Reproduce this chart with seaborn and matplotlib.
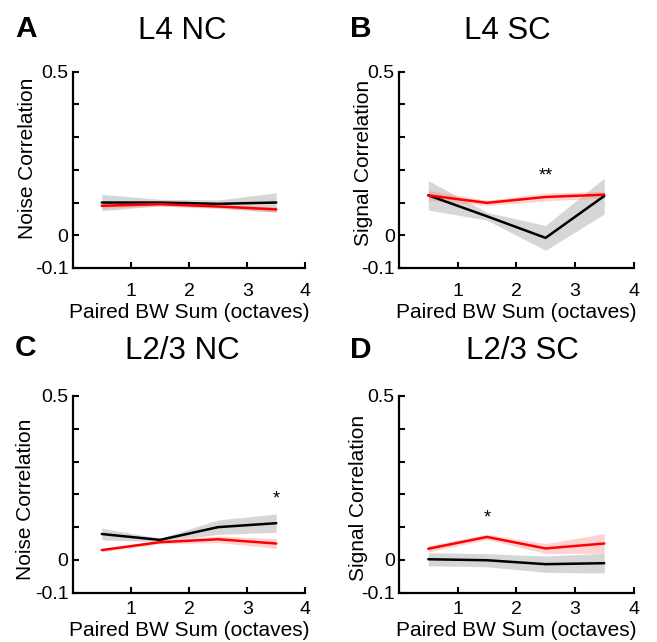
import matplotlib
matplotlib.use("Agg")
import matplotlib.pyplot as plt
import seaborn as sns
import pandas as pd

# bin centres (paired bandwidth sum, octaves)
bw_sum = [0.5, 1.5, 2.5, 3.5]

# L4 noise correlation
l4_nc_black = [0.100, 0.100, 0.096, 0.100]
l4_nc_black_err = [0.025, 0.010, 0.012, 0.030]
l4_nc_red = [0.090, 0.095, 0.088, 0.079]
l4_nc_red_err = [0.008, 0.006, 0.006, 0.008]

# L4 signal correlation
l4_sc_black = [0.122, 0.058, -0.008, 0.120]
l4_sc_black_err = [0.045, 0.012, 0.038, 0.055]
l4_sc_red = [0.122, 0.099, 0.117, 0.124]
l4_sc_red_err = [0.015, 0.008, 0.012, 0.010]

# L2/3 noise correlation
l23_nc_black = [0.079, 0.061, 0.100, 0.112]
l23_nc_black_err = [0.018, 0.005, 0.022, 0.028]
l23_nc_red = [0.030, 0.054, 0.063, 0.050]
l23_nc_red_err = [0.005, 0.005, 0.010, 0.015]

# L2/3 signal correlation
l23_sc_black = [0.002, -0.001, -0.013, -0.010]
l23_sc_black_err = [0.020, 0.020, 0.025, 0.030]
l23_sc_red = [0.034, 0.070, 0.035, 0.050]
l23_sc_red_err = [0.010, 0.008, 0.015, 0.030]

letters = ["A", "B", "C", "D"]
titles = ["L4 NC", "L4 SC", "L2/3 NC", "L2/3 SC"]
ylabels = ["Noise Correlation", "Signal Correlation", "Noise Correlation", "Signal Correlation"]
stars = ["", "**", "*", "*"]
star_x = [None, 2.5, 3.5, 1.5]
star_y = [None, 0.18, 0.185, 0.128]

sns.set_style("white")
plt.rcParams['font.family'] = ['Liberation Sans', 'DejaVu Sans']
plt.rcParams['text.color'] = 'black'
plt.rcParams['axes.labelcolor'] = 'black'
plt.rcParams['xtick.color'] = 'black'
plt.rcParams['ytick.color'] = 'black'

fig = plt.figure(figsize=(6.57, 6.42), dpi=100)

rects = [
    [0.1107, 0.5826, 0.354, 0.3058],
    [0.6073, 0.5826, 0.357, 0.3058],
    [0.1107, 0.0768, 0.354, 0.3064],
    [0.6073, 0.0768, 0.357, 0.3064],
]
panels = [
    (l4_nc_black, l4_nc_black_err, l4_nc_red, l4_nc_red_err),
    (l4_sc_black, l4_sc_black_err, l4_sc_red, l4_sc_red_err),
    (l23_nc_black, l23_nc_black_err, l23_nc_red, l23_nc_red_err),
    (l23_sc_black, l23_sc_black_err, l23_sc_red, l23_sc_red_err),
]
# title / letter centres in figure pixels
title_xy = [(182, 31), (507, 31), (182, 351), (522, 351)]
letter_xy = [(26, 29), (361, 29), (26, 348), (361, 350)]
# y-label anchor (axes fraction)
ylab_xy = [(-0.153, 0.56), (-0.111, 0.533), (-0.162, 0.476), (-0.132, 0.484)]
xtick_pad = [11, 11, 6, 6]

for i in range(4):
    ax = fig.add_axes(rects[i])
    blk, blk_e, red, red_e = panels[i]
    df = pd.DataFrame({"x": bw_sum, "black": blk, "red": red})

    ax.fill_between(bw_sum, [m - e for m, e in zip(blk, blk_e)],
                    [m + e for m, e in zip(blk, blk_e)],
                    color="#9a9a9a", alpha=0.4, lw=0)
    ax.fill_between(bw_sum, [m - e for m, e in zip(red, red_e)],
                    [m + e for m, e in zip(red, red_e)],
                    color="#ff8080", alpha=0.35, lw=0)
    sns.lineplot(data=df, x="x", y="black", color="black", lw=1.8, ax=ax)
    sns.lineplot(data=df, x="x", y="red", color="red", lw=1.8, ax=ax)

    if stars[i]:
        ax.text(star_x[i], star_y[i], stars[i], ha="center", va="center", fontsize=13)

    ax.set_xlim(0, 4)
    ax.set_ylim(-0.1, 0.5)
    ax.set_xticks([1, 2, 3, 4])
    ax.set_yticks([-0.1, 0, 0.1, 0.2, 0.3, 0.4, 0.5])
    ax.set_yticklabels(["-0.1", "0", "", "", "", "", "0.5"])
    ax.tick_params(direction="in", length=4, width=1.5, labelsize=14,
                   left=True, bottom=True)
    ax.tick_params(axis="x", pad=xtick_pad[i])
    ax.tick_params(axis="y", pad=3)
    for s in ["top", "right"]:
        ax.spines[s].set_visible(False)
    for s in ["left", "bottom"]:
        ax.spines[s].set_color("black")
        ax.spines[s].set_linewidth(1.6)
    ax.set_xlabel("Paired BW Sum (octaves)", fontsize=15, labelpad=2)
    ax.set_ylabel(ylabels[i], fontsize=15)
    ax.yaxis.set_label_coords(*ylab_xy[i])

    fig.text(title_xy[i][0] / 657, 1 - title_xy[i][1] / 642, titles[i],
             ha="center", va="center", fontsize=22.5)
    fig.text(letter_xy[i][0] / 657, 1 - letter_xy[i][1] / 642, letters[i],
             ha="center", va="center", fontsize=21.5, fontweight="bold")

fig.savefig("out.png", dpi=100)
